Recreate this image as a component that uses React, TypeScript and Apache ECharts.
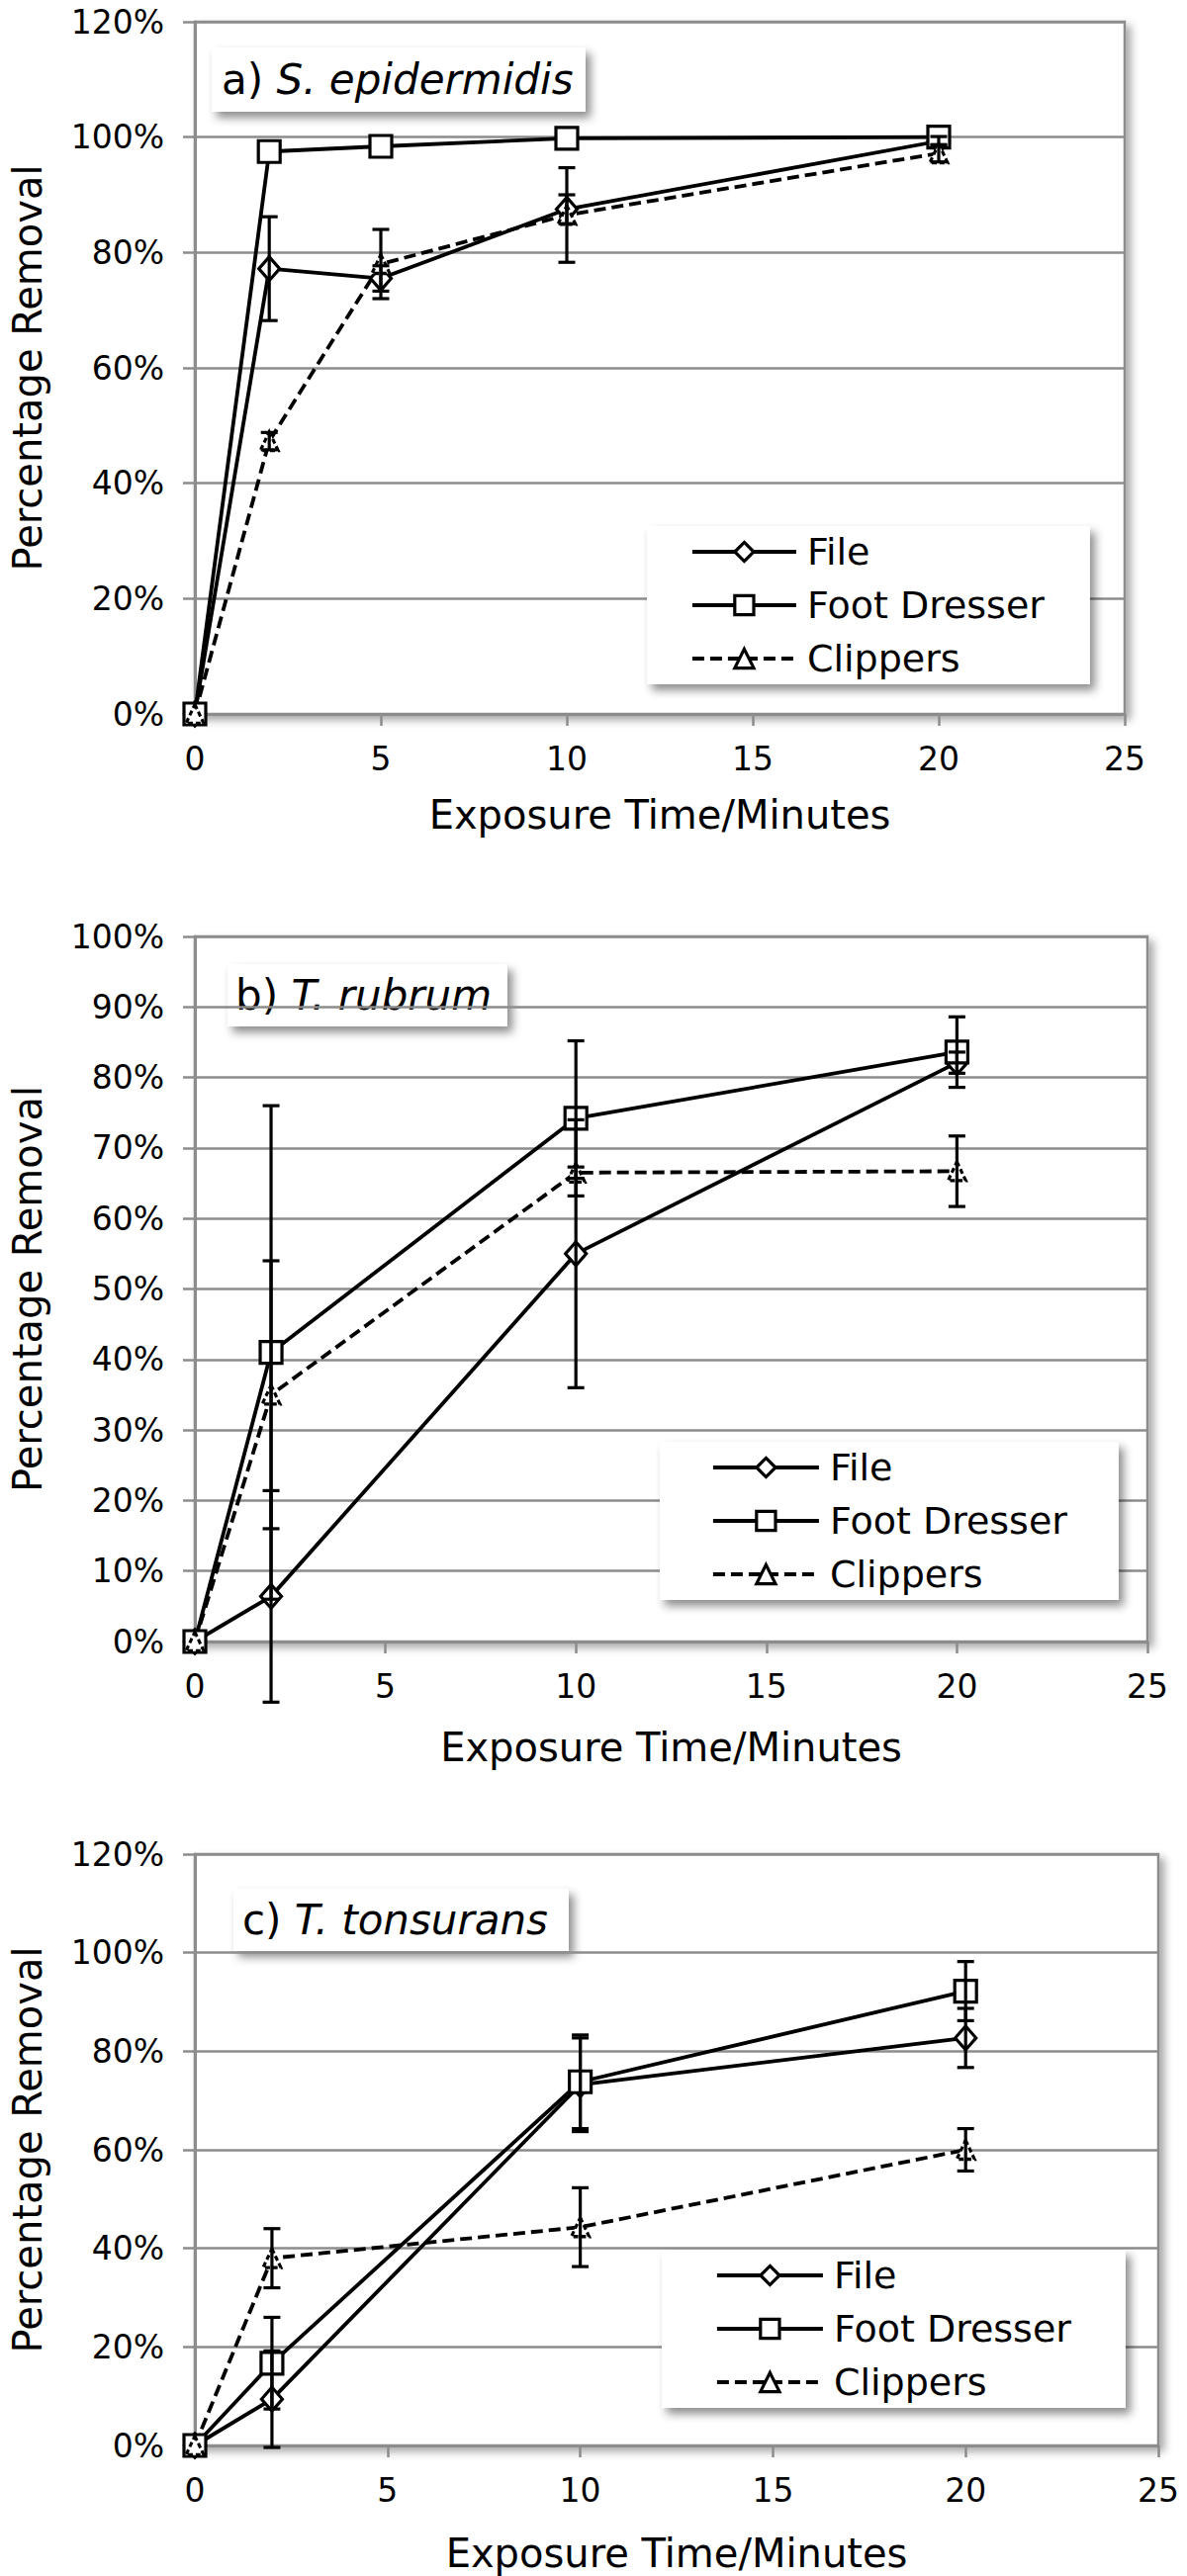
import React, { useEffect, useRef } from 'react';
import * as echarts from 'echarts';

// ---------- data ----------
const seriesNames = ['File', 'Foot Dresser', 'Clippers'];
const xTicks = [0, 5, 10, 15, 20, 25];

// a) S. epidermidis
const timesA = [0, 2, 5, 10, 20];
const fileA = [0, 77.2, 75.5, 87.5, 99.3];
const fileErrA = [0, 9, 2.2, 2.5, 0.8];
const footA = [0, 97.5, 98.4, 99.8, 100];
const footErrA = [0, 0, 0, 0, 0];
const clipA = [0, 47.3, 78, 86.5, 97.2];
const clipErrA = [0, 1.5, 6, 8.2, 1.5];

// b) T. rubrum
const timesB = [0, 2, 10, 20];
const fileB = [0, 6.4, 55, 82.1];
const fileErrB = [0, 15, 19, 1.5];
const footB = [0, 41, 74.2, 83.6];
const footErrB = [0, 35, 11, 5];
const clipB = [0, 35, 66.5, 66.7];
const clipErrB = [0, 19, 0.8, 5];

// c) T. tonsurans
const timesC = [0, 2, 10, 20];
const fileC = [0, 9.4, 73.2, 82.7];
const fileErrC = [0, 9.8, 9.5, 6];
const footC = [0, 16.7, 73.8, 92.2];
const footErrC = [0, 9.3, 9.5, 6];
const clipC = [0, 38, 44.3, 60];
const clipErrC = [0, 6, 8, 4.3];

const panels = [
  { times: timesA, vals: [fileA, footA, clipA], errs: [fileErrA, footErrA, clipErrA], yMax: 120, yStep: 20, tag: 'a) ', species: 'S. epidermidis' },
  { times: timesB, vals: [fileB, footB, clipB], errs: [fileErrB, footErrB, clipErrB], yMax: 100, yStep: 10, tag: 'b) ', species: 'T. rubrum' },
  { times: timesC, vals: [fileC, footC, clipC], errs: [fileErrC, footErrC, clipErrC], yMax: 120, yStep: 20, tag: 'c) ', species: 'T. tonsurans' },
];

// ---------- layout ----------
const layouts = [
  { grid: { left: 194, top: 22, width: 943, height: 700 }, xNameGap: 82,
    legend: { left: 654, top: 532, padding: [7, 46, 7, 44], itemWidth: 105 },
    title: { x: 214, y: 48, w: 378, h: 65, tx: 10 } },
  { grid: { left: 194, top: 947, width: 966, height: 713 }, xNameGap: 87,
    legend: { left: 667, top: 1458, padding: [7, 52, 7, 52], itemWidth: 107 },
    title: { x: 230, y: 975, w: 283, h: 63, tx: 8 } },
  { grid: { left: 193, top: 1875, width: 978, height: 598 }, xNameGap: 89,
    legend: { left: 669, top: 2275, padding: [7, 55, 7, 54], itemWidth: 107 },
    title: { x: 236, y: 1910, w: 339, h: 63, tx: 9 } },
];

const FONT = '"DejaVu Sans", sans-serif';
const GRAY = '#8c8c8c';
const symbols: any[] = ['diamond', 'rect', 'triangle'];
const symbolSizes: any[] = [[21, 24], 22, [18, 19]];
const LINE_W = 3.8;

export default function App() {
  const ref = useRef<HTMLDivElement>(null);
  useEffect(() => {
    document.body.style.margin = '0';
    if (!ref.current) return;
    const chart = echarts.init(ref.current, undefined, { renderer: 'svg' });

    const grids: any[] = [];
    const xAxes: any[] = [];
    const yAxes: any[] = [];
    const legends: any[] = [];
    const series: any[] = [];
    const graphics: any[] = [];

    panels.forEach((p, i) => {
      const L = layouts[i];
      grids.push({
        ...L.grid, show: true, backgroundColor: '#fff', borderColor: GRAY, borderWidth: 2.5,
        shadowColor: 'rgba(0,0,0,0.35)', shadowBlur: 8, shadowOffsetX: 5, shadowOffsetY: 5,
      });
      xAxes.push({
        type: 'value', gridIndex: i, min: xTicks[0], max: xTicks[xTicks.length - 1], interval: 5,
        axisLine: { show: true, lineStyle: { color: GRAY, width: 3 } },
        axisTick: { show: true, length: 12, lineStyle: { color: GRAY, width: 2.5 } },
        splitLine: { show: false },
        axisLabel: { fontSize: 33, color: '#000', margin: 29, fontFamily: FONT, showMinLabel: true, showMaxLabel: true },
        name: 'Exposure Time/Minutes', nameLocation: 'middle', nameGap: L.xNameGap,
        nameTextStyle: { fontSize: 40, color: '#000', fontFamily: FONT },
      });
      yAxes.push({
        type: 'value', gridIndex: i, min: 0, max: p.yMax, interval: p.yStep,
        axisLine: { show: true, lineStyle: { color: GRAY, width: 3 } },
        axisTick: { show: true, length: 12, lineStyle: { color: GRAY, width: 2.5 } },
        splitLine: { show: true, lineStyle: { color: GRAY, width: 2.5 } },
        axisLabel: { fontSize: 33, color: '#000', margin: 31, fontFamily: FONT, formatter: '{value}%', showMinLabel: true, showMaxLabel: true },
        name: 'Percentage Removal', nameLocation: 'middle', nameGap: 149, nameRotate: 90,
        nameTextStyle: { fontSize: 40, color: '#000', fontFamily: FONT },
      });
      legends.push({
        show: true, orient: 'vertical', left: L.legend.left, top: L.legend.top,
        data: seriesNames, itemWidth: L.legend.itemWidth, itemHeight: 24, itemGap: 16,
        padding: L.legend.padding, backgroundColor: '#fff', selectedMode: false,
        shadowBlur: 10, shadowColor: 'rgba(0,0,0,0.45)', shadowOffsetX: 5, shadowOffsetY: 6,
        lineStyle: { width: LINE_W },
        itemStyle: { borderWidth: 3.2 },
        textStyle: { fontFamily: FONT, fontSize: 38, color: '#000', padding: [0, 0, 0, 6] },
      });
      seriesNames.forEach((name, k) => {
        series.push({
          type: 'line', name, xAxisIndex: i, yAxisIndex: i,
          data: p.times.map((t, j) => [t, p.vals[k][j]]),
          symbol: symbols[k], symbolSize: symbolSizes[k], showAllSymbol: true,
          lineStyle: { color: '#000', width: LINE_W, type: k === 2 ? [12, 6] : 'solid' },
          itemStyle: { color: '#fff', borderColor: '#000', borderWidth: 3.2, borderType: k === 2 ? [5, 3] : 'solid' },
          z: 3, clip: false,
        });
      });
      seriesNames.forEach((name, k) => {
        series.push({
          type: 'custom', xAxisIndex: i, yAxisIndex: i, z: 5, clip: false,
          data: p.times.map((t, j) => [t, p.vals[k][j], p.errs[k][j]]),
          encode: { x: 0, y: 1 },
          renderItem: (params: any, api: any) => {
            const x = api.value(0), v = api.value(1), e = api.value(2);
            if (!e) return { type: 'group', children: [] };
            const top = api.coord([x, v + e]);
            const bot = api.coord([x, v - e]);
            const hw = 8.5;
            const st = { stroke: '#000', lineWidth: 3.2 };
            return {
              type: 'group', children: [
                { type: 'line', shape: { x1: top[0], y1: top[1], x2: bot[0], y2: bot[1] }, style: st },
                { type: 'line', shape: { x1: top[0] - hw, y1: top[1], x2: top[0] + hw, y2: top[1] }, style: st },
                { type: 'line', shape: { x1: bot[0] - hw, y1: bot[1], x2: bot[0] + hw, y2: bot[1] }, style: st },
              ],
            };
          },
        });
      });
      const T = L.title;
      graphics.push({
        type: 'group', x: T.x, y: T.y, z: 100,
        children: [
          { type: 'rect', shape: { x: 0, y: 0, width: T.w, height: T.h },
            style: { fill: '#fff', shadowBlur: 10, shadowColor: 'rgba(0,0,0,0.45)', shadowOffsetX: 5, shadowOffsetY: 6 } },
          { type: 'text', x: T.tx, y: T.h / 2,
            style: {
              text: '{n|' + p.tag + '}{i|' + p.species + '}',
              verticalAlign: 'middle', align: 'left',
              rich: {
                n: { fontSize: 42, fontFamily: FONT, fill: '#000', color: '#000' },
                i: { fontSize: 42, fontFamily: FONT, fontStyle: 'italic', fill: '#000', color: '#000' },
              },
              fontSize: 42, fontFamily: FONT, fill: '#000',
            } },
        ],
      });
    });

    chart.setOption({
      animation: false,
      backgroundColor: '#fff',
      grid: grids, xAxis: xAxes, yAxis: yAxes, legend: legends,
      series, graphic: graphics,
    });
    return () => chart.dispose();
  }, []);
  return <div ref={ref} style={{ width: 1200, height: 2605 }} />;
}
